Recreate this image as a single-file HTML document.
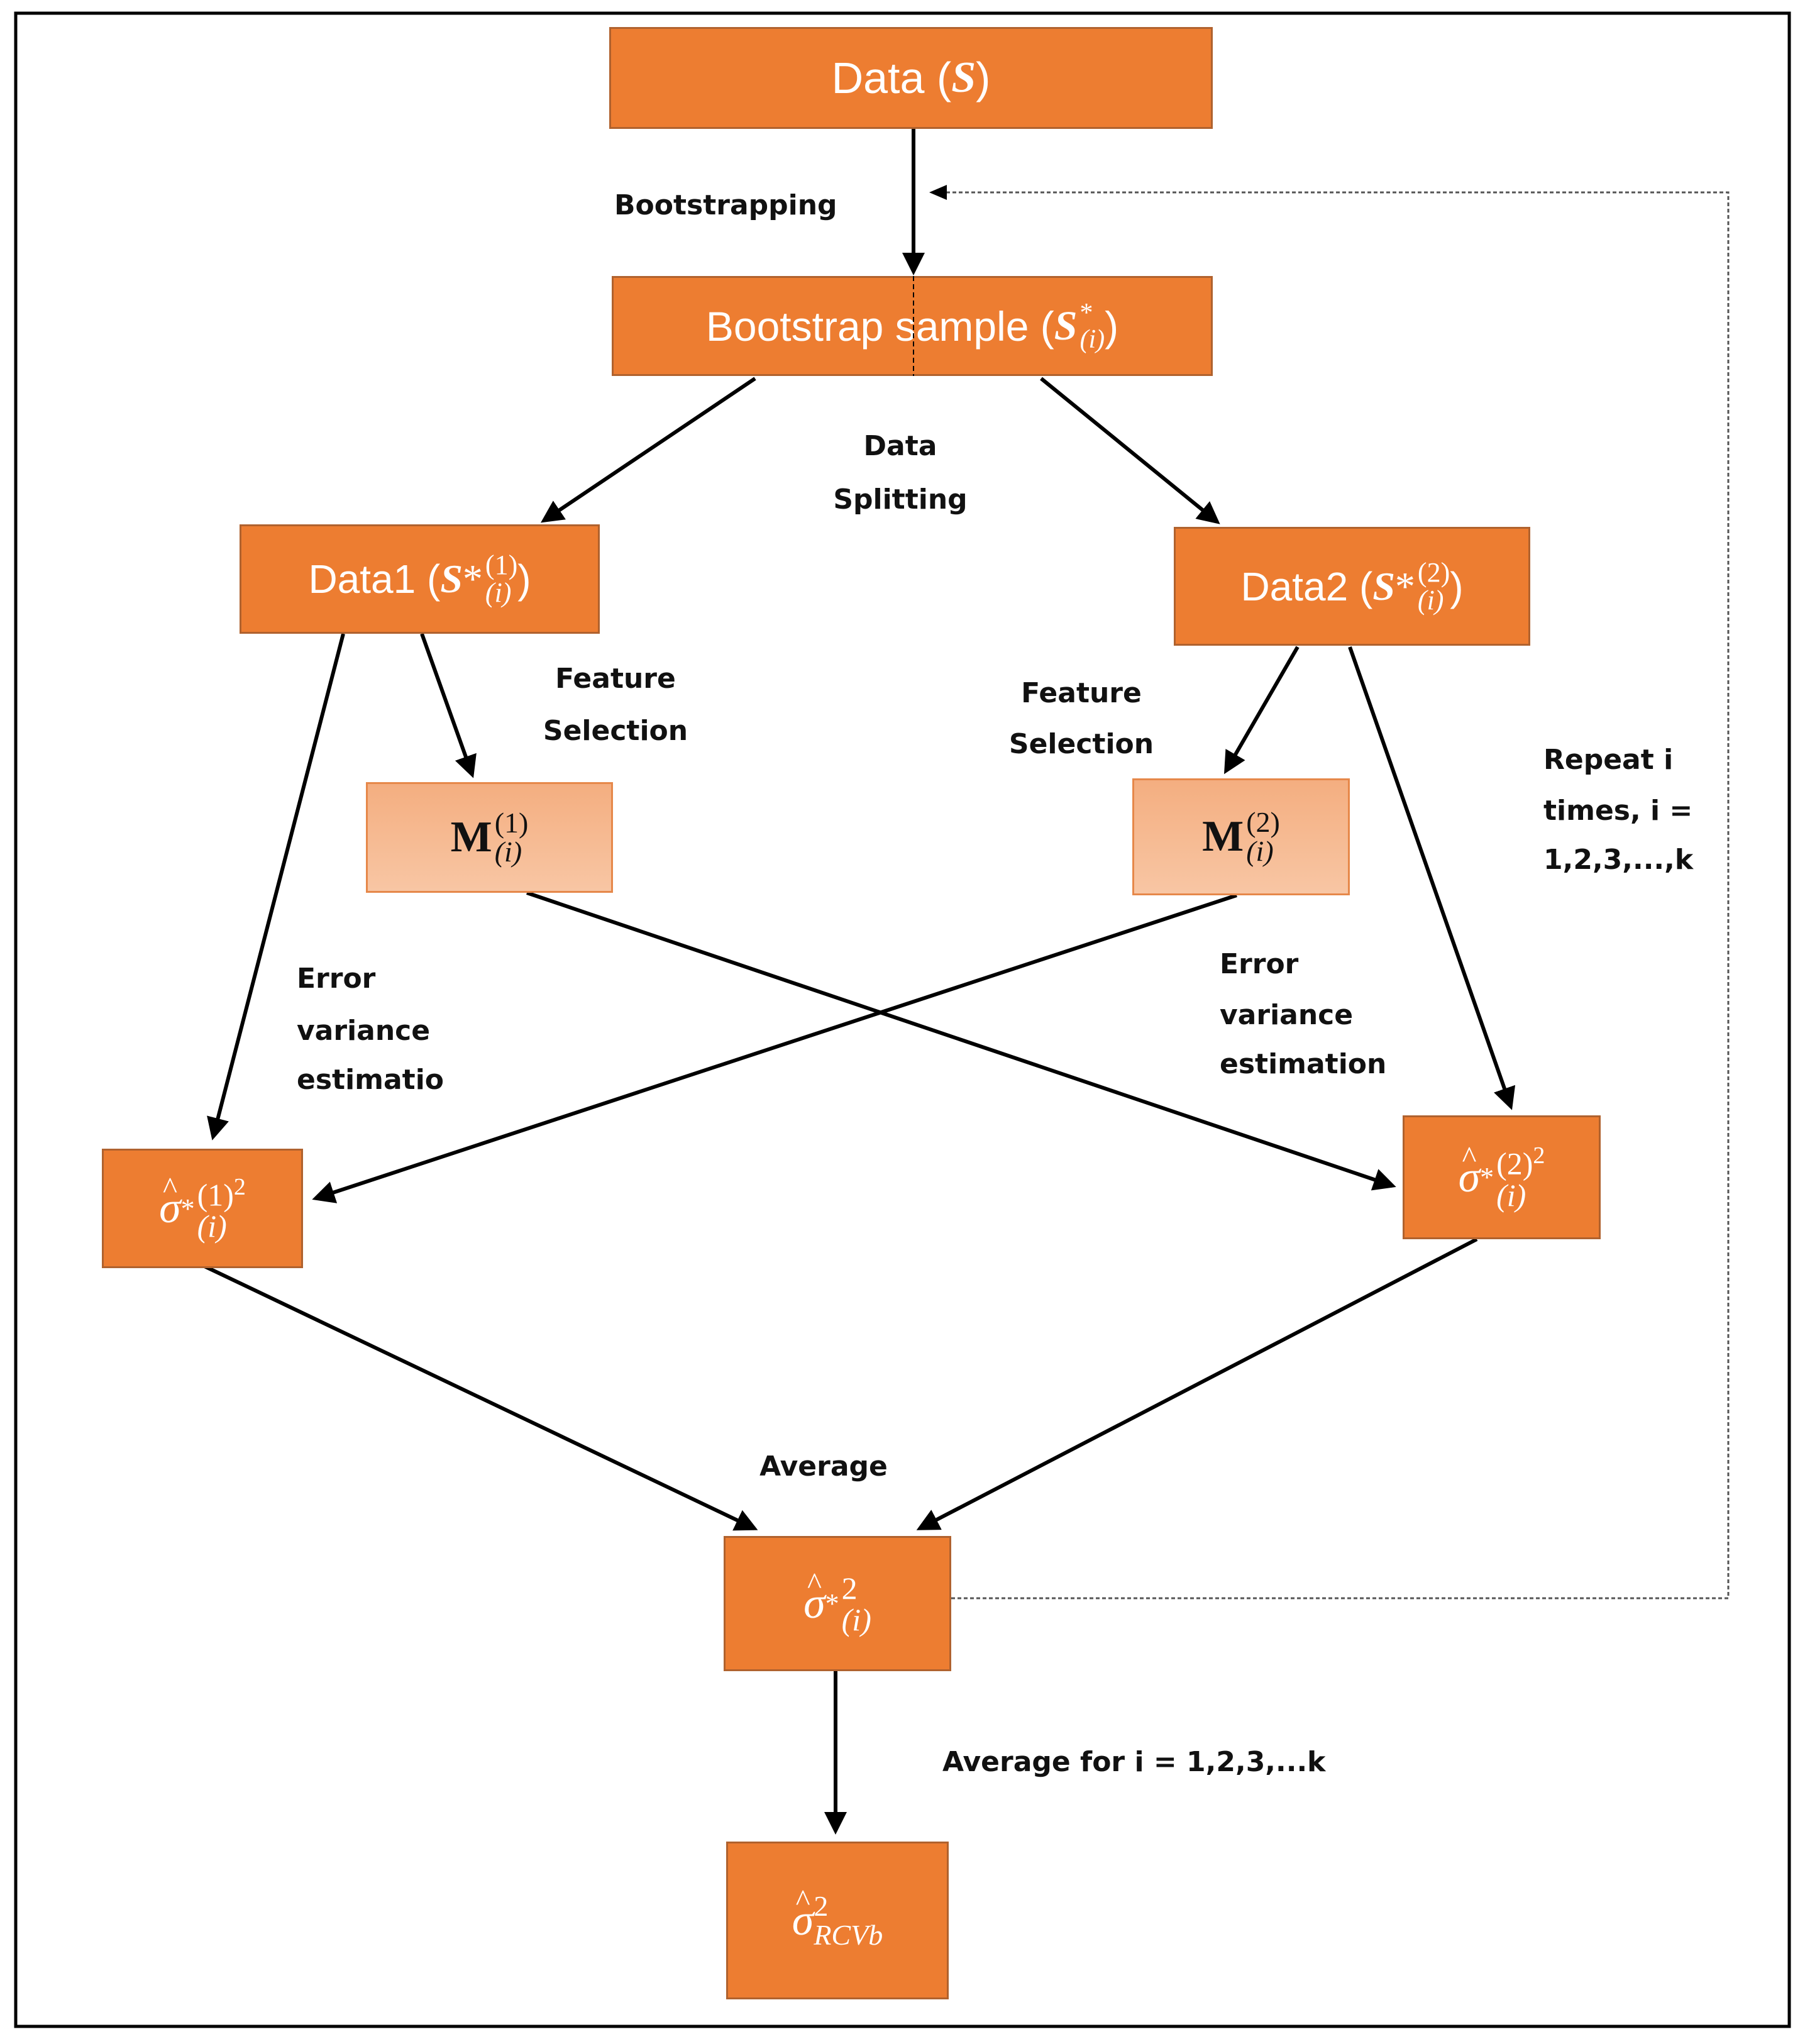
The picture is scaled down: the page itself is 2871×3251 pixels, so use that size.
<!DOCTYPE html>
<html><head><meta charset="utf-8"><style>
html,body{margin:0;padding:0;background:#fff}
#c{position:relative;width:2871px;height:3251px;overflow:hidden;font-family:"Liberation Sans",sans-serif}
.b{position:absolute;box-sizing:border-box;background:#ED7D31;border:3px solid #B0622E;display:flex;align-items:center;justify-content:center;color:#fff;white-space:nowrap}
.m{background:linear-gradient(#F4AE80,#F8C6A4);border-color:#E6884A;color:#111}
.t{position:absolute;font-weight:bold;font-size:44px;color:#111;white-space:nowrap;line-height:1;font-family:"DejaVu Sans",sans-serif}
.ser{font-family:"Liberation Serif",serif}
.st{display:inline-flex;flex-direction:column;vertical-align:middle;line-height:1;margin-left:4px}
.h{position:relative;display:inline-block;font-style:italic}
.h .hat{position:absolute;left:0.12em;top:-0.42em;font-size:0.7em;font-style:normal}
</style></head><body><div id="c">
<svg width="2871" height="3251" style="position:absolute;left:0;top:0">
<defs><marker id="a" markerWidth="6" markerHeight="6" refX="5" refY="3" orient="auto" markerUnits="strokeWidth"><path d="M0,0 L6,3 L0,6 Z" fill="#000"/></marker></defs>
<rect x="25" y="21" width="2821" height="3202" fill="none" stroke="#000" stroke-width="5"/>
<g stroke="#000" stroke-width="6" fill="none" marker-end="url(#a)">
<line x1="1453" y1="205" x2="1453" y2="432"/>
<line x1="1201" y1="602" x2="865" y2="828"/>
<line x1="1656" y1="602" x2="1936" y2="830"/>
<line x1="546" y1="1008" x2="339" y2="1808"/>
<line x1="671" y1="1008" x2="751" y2="1232"/>
<line x1="2064" y1="1029" x2="1950" y2="1226"/>
<line x1="2147" y1="1029" x2="2403" y2="1760"/>
<line x1="838" y1="1420" x2="2215" y2="1886"/>
<line x1="1967" y1="1424" x2="502" y2="1906"/>
<line x1="321" y1="2012" x2="1200" y2="2431"/>
<line x1="2349" y1="1971" x2="1463" y2="2431"/>
<line x1="1329" y1="2658" x2="1329" y2="2912"/>
</g>
<polyline points="1513,2542 2749,2542 2749,306 1490,306" fill="none" stroke="#555" stroke-width="3" stroke-dasharray="6,4"/>
<path d="M1478,306 L1506,294 L1506,318 Z" fill="#000"/>
</svg>
<div class="b" style="left:969px;top:43px;width:960px;height:162px;font-size:70px">Data (<b class="ser"><i>S</i></b>)</div>
<div class="b" style="left:973px;top:439px;width:956px;height:159px;font-size:66px">Bootstrap sample (<b class="ser"><i>S</i></b><span class="st ser" style="font-size:42px"><span>*</span><i>(i)</i></span>)</div>
<svg width="2871" height="3251" style="position:absolute;left:0;top:0;pointer-events:none"><line x1="1453" y1="439" x2="1453" y2="598" stroke="#000" stroke-width="2" stroke-dasharray="8,5"/></svg>
<div class="b" style="left:381px;top:834px;width:573px;height:174px;font-size:64px">Data1 (<b class="ser"><i>S</i></b><span class="ser">*</span><span class="st ser" style="font-size:44px"><span>(1)</span><i>(i)</i></span>)</div>
<div class="b" style="left:1867px;top:838px;width:567px;height:189px;font-size:64px">Data2 (<b class="ser"><i>S</i></b><span class="ser">*</span><span class="st ser" style="font-size:44px"><span>(2)</span><i>(i)</i></span>)</div>
<div class="b m" style="left:582px;top:1244px;width:393px;height:176px;font-size:70px"><b class="ser">M</b><span class="st ser" style="font-size:46px"><span>(1)</span><i>(i)</i></span></div>
<div class="b m" style="left:1801px;top:1238px;width:346px;height:186px;font-size:70px"><b class="ser">M</b><span class="st ser" style="font-size:46px"><span>(2)</span><i>(i)</i></span></div>
<div class="b ser" style="left:162px;top:1827px;width:320px;height:190px;font-size:70px"><span class="h">σ<span class="hat">^</span></span><span style="font-size:44px;vertical-align:0.5em">*</span><span class="st" style="font-size:50px"><span>(1)<sup style="font-size:38px">2</sup></span><i>(i)</i></span></div>
<div class="b ser" style="left:2231px;top:1774px;width:315px;height:197px;font-size:70px"><span class="h">σ<span class="hat">^</span></span><span style="font-size:44px;vertical-align:0.5em">*</span><span class="st" style="font-size:50px"><span>(2)<sup style="font-size:38px">2</sup></span><i>(i)</i></span></div>
<div class="b ser" style="left:1151px;top:2443px;width:362px;height:215px;font-size:70px"><span class="h">σ<span class="hat">^</span></span><span style="font-size:44px;vertical-align:0.5em">*</span><span class="st" style="font-size:50px"><span>2</span><i>(i)</i></span></div>
<div class="b ser" style="left:1155px;top:2929px;width:354px;height:251px;font-size:70px"><span class="h">σ<span class="hat">^</span></span><span class="st" style="font-size:46px;margin-left:0"><span>2</span><i>RCVb</i></span></div>
<div class="t" style="left:977px;top:305px">Bootstrapping</div>
<div class="t" style="left:1432px;top:688px;transform:translateX(-50%)">Data</div>
<div class="t" style="left:1432px;top:773px;transform:translateX(-50%)">Splitting</div>
<div class="t" style="left:979px;top:1058px;transform:translateX(-50%)">Feature</div>
<div class="t" style="left:979px;top:1141px;transform:translateX(-50%)">Selection</div>
<div class="t" style="left:1720px;top:1081px;transform:translateX(-50%)">Feature</div>
<div class="t" style="left:1720px;top:1162px;transform:translateX(-50%)">Selection</div>
<div class="t" style="left:2455px;top:1187px">Repeat i</div>
<div class="t" style="left:2455px;top:1268px">times, i =</div>
<div class="t" style="left:2455px;top:1346px">1,2,3,...,k</div>
<div class="t" style="left:472px;top:1535px">Error</div>
<div class="t" style="left:472px;top:1618px">variance</div>
<div class="t" style="left:472px;top:1696px">estimatio</div>
<div class="t" style="left:1940px;top:1512px">Error</div>
<div class="t" style="left:1940px;top:1593px">variance</div>
<div class="t" style="left:1940px;top:1671px">estimation</div>
<div class="t" style="left:1310px;top:2311px;transform:translateX(-50%)">Average</div>
<div class="t" style="left:1499px;top:2781px">Average for i = 1,2,3,...k</div>
</div></body></html>
